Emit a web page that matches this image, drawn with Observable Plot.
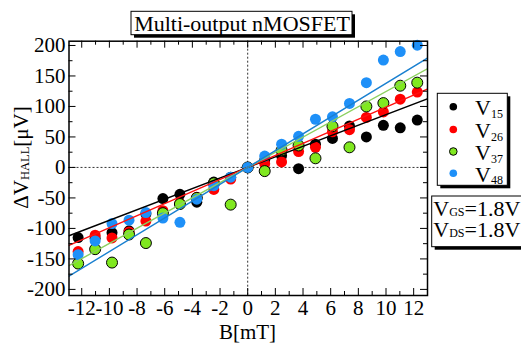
<!DOCTYPE html>
<html><head><meta charset="utf-8">
<script src="https://cdn.jsdelivr.net/npm/d3@7"></script>
<script src="https://cdn.jsdelivr.net/npm/@observablehq/plot@0.6"></script>
<style>body{margin:0;background:#fff}</style>
</head><body><div id="chart"></div>
<script>
// ---- data ----
const bField = [-12.26, -11.03, -9.81, -8.58, -7.36, -6.13, -4.9, -3.68, -2.45, -1.23, 0,
                1.23, 2.45, 3.68, 4.9, 6.13, 7.36, 8.58, 9.81, 11.03, 12.26];
const v15 = [-115, -116, -107, -104, -76, -51, -44, -57, -24, -16, 0,
             12, 19, -2, 38, 47.5, 68, 50, 69, 65, 77.6];
const v26 = [-138, -111, -115.6, -105.7, -88, -71, -59, -49, -36, -19, 0,
             6, 9, 26, 33, 58.5, 62, 82, 91, 112, 123.5];
const v37 = [-157.6, -134, -156, -110, -124, -75, -60, -50, -26, -61, 0,
             -6, 28, 36, 15, 67.5, 33, 100, 105.5, 134, 139];
const v48 = [-143, -120.5, -92, -86.5, -74, -83, -90, -52, -30, -16, 0,
             18.6, 38, 51, 79, 83, 105, 139, 176, 190, 200.5];
const seriesValues = [v15, v26, v37, v48];
const seriesNames = ["15", "26", "37", "48"];
const fitSlopes = [8.67, 9.88, 12.46, 13.8]; // linear fits through origin, µV per mT
const xTicks = [-12, -10, -8, -6, -4, -2, 0, 2, 4, 6, 8, 10, 12];
const xMinor = [-11, -9, -7, -5, -3, -1, 1, 3, 5, 7, 9, 11];
const yTicks = [-200, -150, -100, -50, 0, 50, 100, 150, 200];
const yMinor = [-175, -125, -75, -25, 25, 75, 125, 175];

// ---- styles ----
const dotColors = ["#000000", "#ff0000", "#80e820", "#1e90f8"];
const lineColors = ["#000000", "#ff1010", "#8cd060", "#1a80d0"];
const W = 521, H = 343, mL = 68.5, mR = 94, mT = 40.7, mB = 48;
const xDomain = [-12.92, 13.0], yDomain = [-210, 207];
const frameW = W - mL - mR, frameH = H - mT - mB;
const serif = "'Liberation Serif', 'Times New Roman', serif";

const pts = (i) => seriesValues[i].map((v, j) => ({b: bField[j], v}));
const fit = (i) => xDomain.map(b => ({b, v: fitSlopes[i] * b}));

const tickFmt = d => String(d);
const plot = Plot.plot({
  width: W, height: H,
  marginLeft: mL, marginRight: mR, marginTop: mT, marginBottom: mB,
  x: {domain: xDomain, label: null},
  y: {domain: yDomain, label: null},
  style: {fontFamily: serif, fontSize: "21px", color: "black", background: "white", overflow: "hidden"},
  marks: [
    Plot.ruleY([0], {stroke: "#333", strokeWidth: 1, strokeDasharray: "2,2"}),
    Plot.ruleX([0], {stroke: "#333", strokeWidth: 1, strokeDasharray: "2,2"}),
    ...[0, 1, 2, 3].map(i => Plot.dot(pts(i), {
      x: "b", y: "v", r: 5.5, fill: dotColors[i],
      stroke: i === 2 ? "black" : "none", strokeWidth: 1
    })),
    ...[0, 1, 2, 3].map(i => Plot.line(fit(i), {
      x: "b", y: "v", stroke: lineColors[i], strokeWidth: 1.4, clip: true
    })),
    // inward ticks on all four sides
    Plot.tickX(xTicks, {x: d => d, insetBottom: frameH - 7, stroke: "black"}),
    Plot.tickX(xTicks, {x: d => d, insetTop: frameH - 7, stroke: "black"}),
    Plot.tickX(xMinor, {x: d => d, insetBottom: frameH - 4, stroke: "black"}),
    Plot.tickX(xMinor, {x: d => d, insetTop: frameH - 4, stroke: "black"}),
    Plot.tickY(yTicks, {y: d => d, insetRight: frameW - 7, stroke: "black"}),
    Plot.tickY(yTicks, {y: d => d, insetLeft: frameW - 7, stroke: "black"}),
    Plot.tickY(yMinor, {y: d => d, insetRight: frameW - 4, stroke: "black"}),
    Plot.tickY(yMinor, {y: d => d, insetLeft: frameW - 4, stroke: "black"}),
    Plot.axisX(xTicks, {tickSize: 0, tickPadding: 5, tickFormat: tickFmt, fontSize: 21}),
    Plot.axisY(yTicks, {tickSize: 0, tickPadding: 3.5, tickFormat: tickFmt, fontSize: 21}),
    Plot.frame({stroke: "black", strokeWidth: 1.5})
  ]
});
document.getElementById("chart").appendChild(plot);

// ---- annotations: title, axis labels, legend, conditions ----
const svg = d3.select(plot);
const g = svg.append("g").attr("font-family", serif).attr("fill", "black")
  .attr("text-anchor", "start");

function shadowBox(x, y, w, h) {
  g.append("rect").attr("x", x + 3).attr("y", y + 3).attr("width", w).attr("height", h)
    .attr("fill", "black").attr("stroke", "none");
  g.append("rect").attr("x", x).attr("y", y).attr("width", w).attr("height", h)
    .attr("fill", "white").attr("stroke", "black").attr("stroke-width", 1);
}

// title
shadowBox(131, 11.3, 221, 23.4);
g.append("text").attr("x", 242).attr("y", 30.7).attr("text-anchor", "middle")
  .attr("font-size", 22).text("Multi-output nMOSFET");

// x label
g.append("text").attr("x", 247.5).attr("y", 339).attr("text-anchor", "middle")
  .attr("font-size", 21).text("B[mT]");

// y label
const yl = g.append("text").attr("transform", "translate(28,157.5) rotate(-90)")
  .attr("text-anchor", "middle").attr("font-size", 21);
yl.append("tspan").text("ΔV");
yl.append("tspan").attr("font-size", 12.5).attr("dy", 1).text("HALL");
yl.append("tspan").attr("dy", -1).text("[μV]");

// legend
shadowBox(437.3, 93.3, 70, 92);
const legY = [106.7, 129.5, 151.5, 173.3];
seriesNames.forEach((n, i) => {
  g.append("circle").attr("cx", 453.3).attr("cy", legY[i]).attr("r", 3.8)
    .attr("fill", dotColors[i]).attr("stroke", i === 2 ? "black" : "none").attr("stroke-width", 1);
  const t = g.append("text").attr("x", 475).attr("y", legY[i] + 8.5).attr("font-size", 22);
  t.append("tspan").text("V");
  t.append("tspan").attr("font-size", 12).attr("dy", 2.5).text(n);
});

// conditions box
shadowBox(431.7, 196, 100, 50.7);
[["GS", 216], ["DS", 236.7]].forEach(([s, y]) => {
  const t = g.append("text").attr("x", 433.3).attr("y", y).attr("font-size", 22);
  t.append("tspan").text("V");
  t.append("tspan").attr("font-size", 12).text(s);
  t.append("tspan").text("=1.8V");
});
</script>
</body></html>
